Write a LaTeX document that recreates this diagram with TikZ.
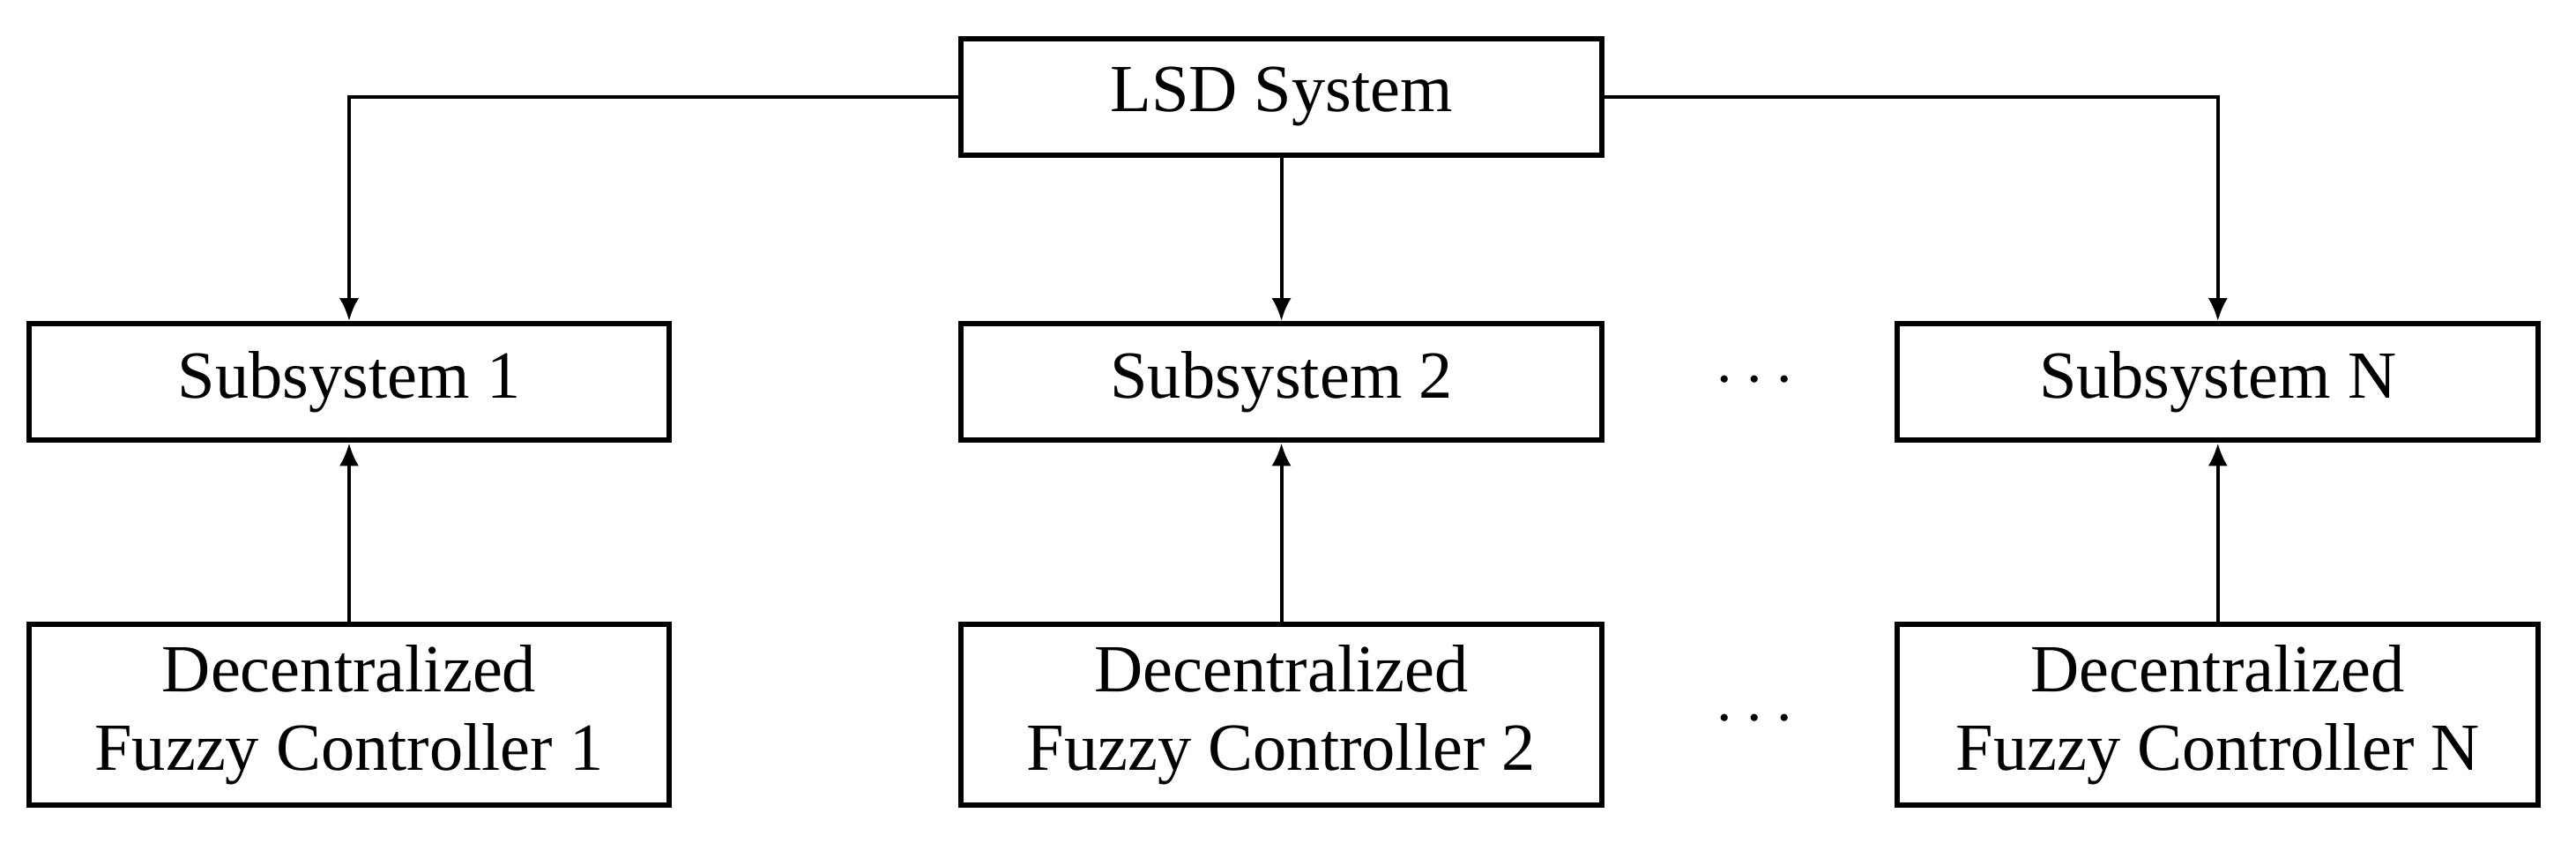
\documentclass[tikz,border=0pt]{standalone}
\usepackage{fontspec}
\setmainfont{Liberation Serif}
\usetikzlibrary{arrows.meta}
\begin{document}
\begin{tikzpicture}[x=0.5pt,y=-0.5pt,
  box/.style={draw,line width=1.6pt,minimum width=195pt,inner sep=0pt,align=center,font=\fontsize{20.5}{24}\selectfont},
  sb/.style={box,minimum height=35.5pt},
  db/.style={box,minimum height=55pt},
  arr/.style={line width=1.1pt,-{Latex[length=7pt,width=6pt]}}]
\useasboundingbox (0,0) rectangle (1568,513);
\node[sb] (lsd) at (780,59) {LSD System};
\node[sb] (s1) at (212.5,232.5) {Subsystem 1};
\node[sb] (s2) at (780,232.5) {Subsystem 2};
\node[sb] (sN) at (1350,232.5) {Subsystem N};
\node[db] (d1) at (212.5,435) {Decentralized\\Fuzzy Controller 1};
\node[db] (d2) at (780,435) {Decentralized\\Fuzzy Controller 2};
\node[db] (dN) at (1350,435) {Decentralized\\Fuzzy Controller N};
\node[font=\fontsize{20.5}{24}\selectfont] (e1) at (1068,232) {$\cdots$};
\node[font=\fontsize{20.5}{24}\selectfont] (e2) at (1068,438) {$\cdots$};
\draw[arr] (lsd.west) -| (s1.north);
\draw[arr] (lsd.south) -- (s2.north);
\draw[arr] (lsd.east) -| (sN.north);
\draw[arr] (d1) -- (s1);
\draw[arr] (d2) -- (s2);
\draw[arr] (dN) -- (sN);
\end{tikzpicture}
\end{document}
